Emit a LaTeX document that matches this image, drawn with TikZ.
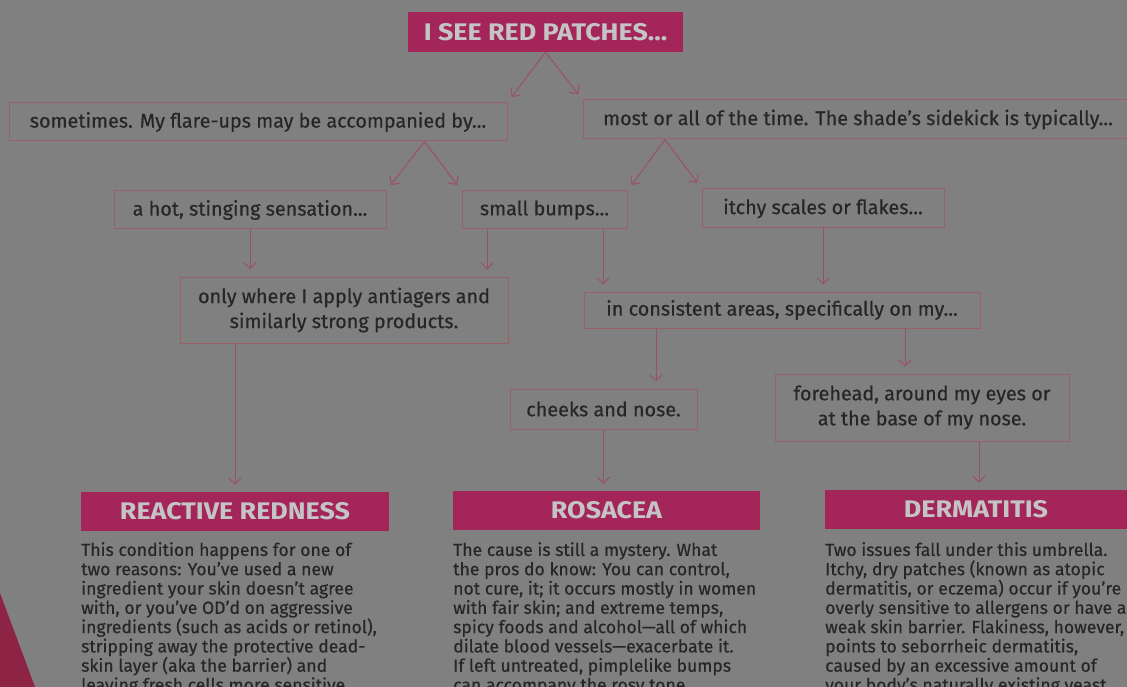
\documentclass[tikz,border=0pt]{standalone}
\usepackage{fontspec}
\setmainfont{Fira Sans}
\newfontfamily\boxfont[Ligatures=TeX,FakeBold=0.4]{Fira Sans}
\newfontfamily\hdrfont[Ligatures=TeX,FakeStretch=1.12]{Fira Sans}
\usetikzlibrary{arrows.meta,calc}
\definecolor{bg}{HTML}{808080}
\definecolor{hdr}{HTML}{A3255A}
\definecolor{bord}{HTML}{9A6068}
\definecolor{arrc}{HTML}{9A5066}
\definecolor{ink}{HTML}{262626}
\definecolor{hdrtxt}{HTML}{C4C4C4}
\definecolor{photo}{HTML}{8E2445}
\tikzset{
  qbox/.style={draw=bord, line width=1pt, fill=bg, text=ink, inner sep=0pt, align=center,
    font=\boxfont\fontsize{19.8}{25}\selectfont},
  hbox/.style={fill=hdr, text=hdrtxt, inner sep=0pt, font=\hdrfont\fontsize{24}{28}\selectfont\bfseries},
  bodytext/.style={text=ink, inner sep=0pt, align=left, anchor=north west,
    font=\boxfont\fontsize{17.6}{19.3}\selectfont},
  arr/.style={draw=arrc, line width=1pt, -{Straight Barb[length=6pt,width=12pt]}, shorten >=7pt}
}
\begin{document}
\begin{tikzpicture}[x=1pt,y=-1pt]
\useasboundingbox (0,0) rectangle (1127,687);
\clip (0,0) rectangle (1127,687);
\fill[bg] (0,0) rectangle (1127,687);
\fill[photo] (0,593) -- (35,687) -- (0,687) -- cycle;

% title
\node[hbox, minimum width=275pt, minimum height=40pt] (title) at (545.5,32) {I SEE RED PATCHES...};

% level 1
\node[qbox, minimum width=498pt, minimum height=38pt] (some) at (258,122) {sometimes. My flare-ups may be accompanied by...};
\node[qbox, minimum width=550pt, minimum height=39pt] (most) at (858,119.5) {most or all of the time. The shade's sidekick is typically...};

% level 2
\node[qbox, minimum width=272pt, minimum height=38pt] (hot) at (250,210) {a hot, stinging sensation...};
\node[qbox, minimum width=165pt, minimum height=38pt] (bumps) at (544.5,210) {small bumps...};
\node[qbox, minimum width=242pt, minimum height=39pt] (itchy) at (823,208.5) {itchy scales or flakes...};

% level 3
\node[qbox, minimum width=328pt, minimum height=66pt] (only) at (344,310) {only where I apply antiagers and\\similarly strong products.};
\node[qbox, minimum width=396pt, minimum height=36pt] (consist) at (782,310) {in consistent areas, specifically on my...};

% level 4
\node[qbox, minimum width=187pt, minimum height=40pt] (cheeks) at (603.5,409) {cheeks and nose.};
\node[qbox, minimum width=294pt, minimum height=67pt] (fore) at (922,407.5) {forehead, around my eyes or\\at the base of my nose.};

% results
\node[hbox, minimum width=308pt, minimum height=39pt] (rr) at (235,511.5) {REACTIVE REDNESS};
\node[hbox, minimum width=307pt, minimum height=39pt] (ros) at (606.5,510.5) {ROSACEA};
\node[hbox, minimum width=302pt, minimum height=39pt] (derm) at (976,509.5) {DERMATITIS};

\node[bodytext] (rrtext) at (81,542) {This condition happens for one of\\
two reasons: You've used a new\\
ingredient your skin doesn't agree\\
with, or you've OD'd on aggressive\\
ingredients (such as acids or retinol),\\
stripping away the protective dead-\\
skin layer (aka the barrier) and\\
leaving fresh cells more sensitive.};
\node[bodytext] (rostext) at (453,542) {The cause is still a mystery. What\\
the pros do know: You can control,\\
not cure, it; it occurs mostly in women\\
with fair skin; and extreme temps,\\
spicy foods and alcohol—all of which\\
dilate blood vessels—exacerbate it.\\
If left untreated, pimplelike bumps\\
can accompany the rosy tone.};
\node[bodytext] (dermtext) at (825,542) {Two issues fall under this umbrella.\\
Itchy, dry patches (known as atopic\\
dermatitis, or eczema) occur if you're\\
overly sensitive to allergens or have a\\
weak skin barrier. Flakiness, however,\\
points to seborrheic dermatitis,\\
caused by an excessive amount of\\
your body's naturally existing yeast.};

% connectors
\draw[arr] (title.south) -- (some.north east);
\draw[arr] (title.south) -- (most.north west);
\draw[arr] (some.south -| 424.5,0) -- (hot.north east);
\draw[arr] (some.south -| 424.5,0) -- (bumps.north west);
\draw[arr] (most.south -| 665,0) -- (bumps.north east);
\draw[arr] (most.south -| 665,0) -- (itchy.north west);
\draw[arr] (hot.south) -- (hot.south |- only.north);
\draw[arr] (bumps.south -| 487,0) -- (only.north -| 487,0);
\draw[arr] (bumps.south -| 603,0) -- (consist.north -| 603,0);
\draw[arr] (itchy.south) -- (itchy.south |- consist.north);
\draw[arr] (only.south -| rr.north) -- (rr.north);
\draw[arr] (consist.south -| 656,0) -- (cheeks.north -| 656,0);
\draw[arr] (consist.south -| 905,0) -- (fore.north -| 905,0);
\draw[arr] (cheeks.south) -- (cheeks.south |- ros.north);
\draw[arr] (fore.south -| 979,0) -- (derm.north -| 979,0);
\end{tikzpicture}
\end{document}
